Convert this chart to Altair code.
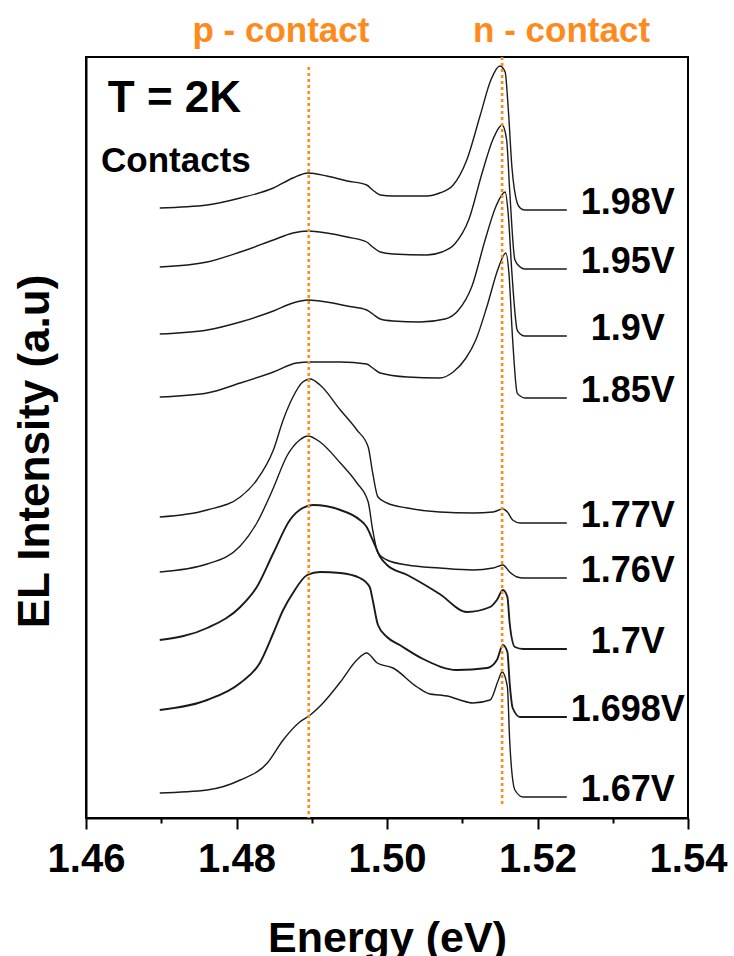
import altair as alt
import pandas as pd

# Bias voltages (top to bottom) and the vertical offset applied to each trace
voltages = ["1.98V", "1.95V", "1.9V", "1.85V", "1.77V", "1.76V", "1.7V", "1.698V", "1.67V"]
offsets = [608, 549, 482, 420, 295, 240, 169, 101, 21]

# EL spectra: photon energy (eV) and intensity above each trace's baseline (a.u.)
e_198 = [1.4698, 1.4761, 1.4805, 1.4849, 1.4875, 1.4895, 1.4920, 1.4947, 1.4973, 1.4981, 1.4991, 1.5008, 1.5053,
         1.5070, 1.5088, 1.5106, 1.5124, 1.5138, 1.5150, 1.5157, 1.5161, 1.5166, 1.5173, 1.5177, 1.5183, 1.5239]
i_198 = [2, 5, 12, 22, 32, 37, 34, 29, 25, 20, 15, 14, 14, 17, 25, 50, 95, 130, 144, 138, 103, 43, 7, 2, 0, 0]

e_195 = [1.4698, 1.4761, 1.4805, 1.4849, 1.4875, 1.4895, 1.4920, 1.4947, 1.4973, 1.4981, 1.4991, 1.5008, 1.5053,
         1.5073, 1.5090, 1.5109, 1.5126, 1.5141, 1.5153, 1.5159, 1.5163, 1.5170, 1.5177, 1.5183, 1.5239]
i_195 = [2, 7, 17, 29, 36, 38, 36, 32, 27, 22, 17, 15, 14, 17, 25, 50, 95, 130, 144, 129, 79, 9, 2, 0, 0]

e_190 = [1.4698, 1.4761, 1.4805, 1.4849, 1.4875, 1.4895, 1.4920, 1.4947, 1.4973, 1.4981, 1.4991, 1.5008, 1.5044,
         1.5077, 1.5094, 1.5113, 1.5130, 1.5145, 1.5157, 1.5161, 1.5166, 1.5173, 1.5177, 1.5183, 1.5239]
i_190 = [2, 6, 14, 25, 33, 36, 34, 30, 26, 22, 17, 15, 14, 17, 25, 50, 95, 130, 144, 123, 63, 6, 2, 0, 0]

e_185 = [1.4698, 1.4761, 1.4805, 1.4849, 1.4880, 1.4898, 1.4938, 1.4973, 1.4981, 1.4991, 1.5027, 1.5070, 1.5088,
         1.5105, 1.5118, 1.5133, 1.5148, 1.5158, 1.5162, 1.5167, 1.5173, 1.5177, 1.5183, 1.5239]
i_185 = [1, 5, 15, 26, 35, 36, 36, 34, 30, 25, 21, 20, 26, 40, 58, 92, 130, 145, 125, 58, 5, 2, 0, 0]

e_177 = [1.4698, 1.4761, 1.4805, 1.4827, 1.4849, 1.4862, 1.4875, 1.4888, 1.4898, 1.4911, 1.4938, 1.4960, 1.4975,
         1.4981, 1.4988, 1.5000, 1.5027, 1.5070, 1.5114, 1.5141, 1.5154, 1.5160, 1.5167, 1.5177, 1.5239]
i_177 = [6, 13, 26, 43, 73, 103, 126, 141, 144, 138, 113, 93, 76, 50, 26, 20, 15, 11, 10, 11, 14, 11, 3, 0, 0]

e_176 = [1.4698, 1.4761, 1.4805, 1.4827, 1.4849, 1.4867, 1.4884, 1.4895, 1.4911, 1.4938, 1.4960, 1.4975, 1.4981,
         1.4988, 1.5000, 1.5027, 1.5070, 1.5114, 1.5141, 1.5154, 1.5163, 1.5173, 1.5181, 1.5239]
i_176 = [6, 14, 32, 55, 90, 122, 138, 142, 136, 115, 95, 76, 48, 25, 18, 13, 10, 8, 10, 13, 6, 1, 0, 0]

e_170 = [1.4698, 1.4761, 1.4805, 1.4827, 1.4849, 1.4871, 1.4888, 1.4902, 1.4938, 1.4964, 1.4973, 1.4981, 1.4991,
         1.5000, 1.5027, 1.5070, 1.5106, 1.5137, 1.5146, 1.5154, 1.5160, 1.5163, 1.5170, 1.5181, 1.5239]
i_170 = [9, 21, 42, 62, 96, 129, 141, 144, 139, 129, 122, 109, 92, 84, 74, 55, 37, 42, 49, 59, 52, 26, 2, 0, 0]

e_1698 = [1.4698, 1.4761, 1.4805, 1.4831, 1.4849, 1.4862, 1.4875, 1.4894, 1.4911, 1.4938, 1.4964, 1.4977, 1.4981,
          1.4988, 1.5000, 1.5017, 1.5048, 1.5093, 1.5133, 1.5146, 1.5154, 1.5160, 1.5163, 1.5167, 1.5177, 1.5239]
i_1698 = [7, 17, 34, 54, 84, 107, 124, 142, 145, 144, 139, 130, 117, 92, 80, 72, 58, 47, 49, 57, 72, 65, 34, 9, 0, 0]

e_167 = [1.4698, 1.4761, 1.4805, 1.4841, 1.4862, 1.4884, 1.4898, 1.4915, 1.4938, 1.4960, 1.4973, 1.4987, 1.5008,
         1.5040, 1.5057, 1.5070, 1.5080, 1.5097, 1.5114, 1.5137, 1.5148, 1.5153, 1.5160, 1.5163, 1.5170, 1.5181, 1.5239]
i_167 = [4, 7, 17, 34, 57, 75, 82, 94, 115, 137, 144, 134, 129, 110, 103, 102, 101, 97, 94, 97, 117, 125, 110, 57, 7,
         0, 0]

energies = [e_198, e_195, e_190, e_185, e_177, e_176, e_170, e_1698, e_167]
intensities = [i_198, i_195, i_190, i_185, i_177, i_176, i_170, i_1698, i_167]

# Contact emission lines (eV)
contact_names = ["p - contact", "n - contact"]
contact_energy = [1.4896, 1.5153]

FONT = "Liberation Sans"
ORANGE = "#FF8A1C"

rows = []
for v, off, es, ins in zip(voltages, offsets, energies, intensities):
    for e, i in zip(es, ins):
        rows.append({"voltage": v, "energy": e, "intensity": i + off})
spectra = pd.DataFrame(rows)

labels = pd.DataFrame({"voltage": voltages, "level": offsets, "energy": 1.532})

x_scale = alt.Scale(domain=[1.46, 1.54], nice=False, zero=False)
y_scale = alt.Scale(domain=[0, 761], nice=False, zero=False)

even = "round(datum.value * 100) % 2 === 0"
x_axis = alt.Axis(
    values=[1.46, 1.47, 1.48, 1.49, 1.50, 1.51, 1.52, 1.53, 1.54], grid=False,
    labelExpr=f"{even} ? format(datum.value, '.2f') : ''",
    tickSize={"condition": {"test": even, "value": 11}, "value": 5},
    tickWidth=2, tickColor="black",
    domainColor="black", domainWidth=2,
    labelFont=FONT, labelFontSize=40, labelFontWeight="bold", labelColor="black",
    labelPadding=10, labelFlush=False, labelOverlap=False,
    title="Energy (eV)", titleFont=FONT, titleFontSize=43, titleFontWeight="bold",
    titleColor="black", titleY=133, titleBaseline="alphabetic",
)
y_axis = alt.Axis(
    labels=False, ticks=False, grid=False, domainColor="black", domainWidth=2,
    title="EL Intensity (a.u)", titleFont=FONT, titleFontSize=44, titleFontWeight="bold",
    titleColor="black", titleAngle=270, titleX=-38, titleY=394,
    titleAlign="center", titleBaseline="alphabetic",
)

lines = alt.Chart(spectra).mark_line(interpolate="monotone", color="#1a1a1a").encode(
    x=alt.X("energy:Q", scale=x_scale, axis=x_axis),
    y=alt.Y("intensity:Q", scale=y_scale, axis=y_axis),
    detail="voltage:N",
    strokeWidth=alt.condition(
        alt.FieldOneOfPredicate(field="voltage", oneOf=["1.7V", "1.698V"]),
        alt.value(1.9), alt.value(1.4),
    ),
)

contacts = pd.DataFrame({
    "name": contact_names, "energy": contact_energy,
    "top": [751, 761], "bottom": [0, 13],
})
rules = alt.Chart(contacts).mark_rule(color=ORANGE, strokeWidth=2.6, strokeDash=[3, 3]).encode(
    x="energy:Q", y="top:Q", y2="bottom:Q",
)

contact_text = pd.DataFrame({"name": contact_names, "energy": [1.4859, 1.5232]})
top_labels = alt.Chart(contact_text).mark_text(
    font=FONT, fontSize=35, fontWeight="bold", color=ORANGE, baseline="alphabetic", align="center",
).encode(x="energy:Q", y=alt.value(-15), text="name:N")

volt_labels = alt.Chart(labels).mark_text(
    font=FONT, fontSize=36, fontWeight="bold", color="black", align="center", baseline="middle", dy=-7,
).encode(x="energy:Q", y="level:Q", text="voltage:N")

notes = pd.DataFrame({
    "text": ["T = 2K", "Contacts"], "energy": [1.4629, 1.4620], "level": [706, 646], "size": [44, 35],
})
note_text = alt.Chart(notes).mark_text(
    font=FONT, fontWeight="bold", color="black", align="left", baseline="alphabetic",
).encode(x="energy:Q", y="level:Q", text="text:N", size=alt.Size("size:Q", scale=None, legend=None))

chart = alt.layer(lines, rules, top_labels, volt_labels, note_text).properties(
    width=602, height=761,
    autosize=alt.AutoSizeParams(type="none"),
    padding={"left": 86, "top": 57, "right": 46, "bottom": 138},
).configure_view(stroke="black", strokeWidth=2)

chart.save("out.html", embed_options={"renderer": "svg", "actions": False})
